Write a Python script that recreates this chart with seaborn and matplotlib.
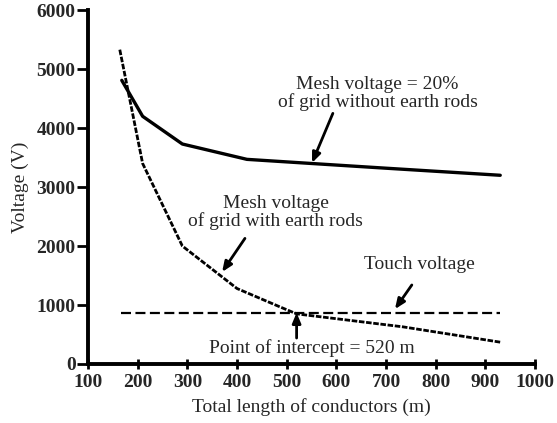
import matplotlib
matplotlib.use("Agg")
import matplotlib.pyplot as plt
import seaborn as sns
import pandas as pd

# Maillage sans piquets de terre (20 %)
length_no_rods = [168, 210, 290, 420, 550, 700, 930]
volt_no_rods = [4810, 4200, 3730, 3470, 3400, 3320, 3200]

# Maillage avec piquets de terre
length_rods = [164, 210, 290, 400, 486, 520, 734, 930]
volt_rods = [5330, 3400, 2000, 1280, 970, 850, 630, 370]

# Tension de contact
length_touch = [166, 930]
volt_touch = [870, 870]

x_ticks = [100, 200, 300, 400, 500, 600, 700, 800, 900, 1000]
y_ticks = [0, 1000, 2000, 3000, 4000, 5000, 6000]

sns.set_style("ticks")
plt.rcParams['font.family'] = ['Liberation Serif', 'DejaVu Serif']

fig = plt.figure(figsize=(5.57, 4.23), dpi=100)
ax = fig.add_axes([0.158, 0.1395, 0.8025, 0.8365])

df1 = pd.DataFrame({"x": length_no_rods, "y": volt_no_rods})
df2 = pd.DataFrame({"x": length_rods, "y": volt_rods})
df3 = pd.DataFrame({"x": length_touch, "y": volt_touch})

sns.lineplot(data=df1, x="x", y="y", ax=ax, color="black", linewidth=2.4,
             sort=False)
sns.lineplot(data=df2, x="x", y="y", ax=ax, color="black", linewidth=2.0,
             linestyle=(0, (2.0, 0.6)), sort=False)
sns.lineplot(data=df3, x="x", y="y", ax=ax, color="black", linewidth=1.6,
             linestyle=(0, (4.5, 2.0)), sort=False)

ax.set_xlim(100, 1000)
ax.set_ylim(0, 6000)
ax.set_xticks(x_ticks)
ax.set_yticks(y_ticks)
ax.tick_params(axis="y", direction="out", length=8, width=2.0,
               labelsize=14, color="black", pad=1)
ax.tick_params(axis="x", direction="inout", length=7, width=2.0,
               labelsize=14, color="black", pad=4)
for lbl in ax.get_xticklabels() + ax.get_yticklabels():
    lbl.set_fontweight("bold")
for side in ["top", "right"]:
    ax.spines[side].set_visible(False)
for side in ["left", "bottom"]:
    ax.spines[side].set_linewidth(2.8)
    ax.spines[side].set_color("black")

ax.set_xlabel("Total length of conductors (m)", fontsize=14, labelpad=5)
ax.set_ylabel("Voltage (V)", fontsize=14, labelpad=5)

arrow = dict(arrowstyle="-|>,head_width=0.25,head_length=0.6", color="black",
             lw=2.0, shrinkA=0, shrinkB=0)

ax.text(683, 4590, "Mesh voltage = 20%\nof grid without earth rods",
        ha="center", va="center", fontsize=14, linespacing=1.0)
ax.annotate("", xy=(551, 3410), xytext=(593, 4250), arrowprops=arrow)

ax.text(478, 2570, "Mesh voltage\nof grid with earth rods", ha="center",
        va="center", fontsize=14, linespacing=1.0)
ax.annotate("", xy=(370, 1560), xytext=(416, 2130), arrowprops=arrow)

ax.text(768, 1680, "Touch voltage", ha="center", va="center", fontsize=14)
ax.annotate("", xy=(718, 930), xytext=(752, 1340), arrowprops=arrow)

ax.text(551, 270, "Point of intercept = 520 m", ha="center", va="center",
        fontsize=14)
ax.annotate("", xy=(520, 870), xytext=(520, 440), arrowprops=arrow)

fig.savefig("out.png", dpi=100)
